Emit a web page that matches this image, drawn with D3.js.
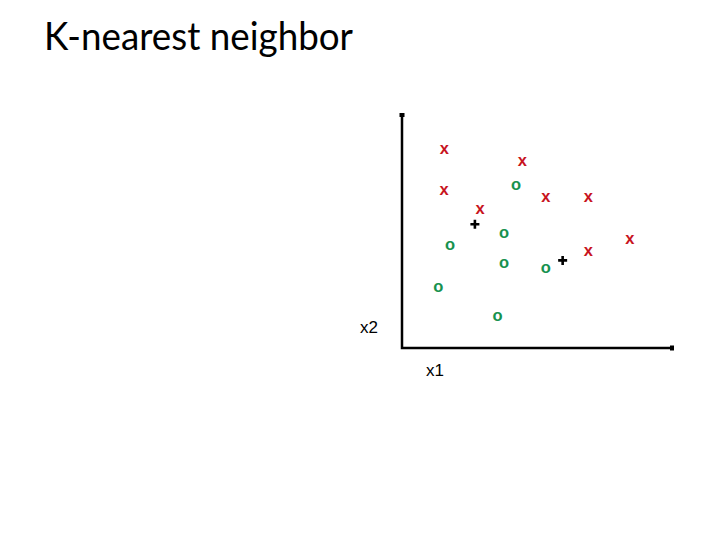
<!DOCTYPE html>
<html>
<head>
<meta charset="utf-8">
<script src="https://cdn.jsdelivr.net/npm/d3@7"></script>
<style>
  html, body { margin: 0; padding: 0; background: #fff; }
</style>
</head>
<body>
<div id="chart"></div>
<script>
const width = 720;
const height = 540;

// class "x" points (red)
const crossX = [1.57, 4.46, 1.56, 2.89, 5.33, 6.90, 8.44, 6.90];
const crossY = [8.57, 8.07, 6.81, 6.02, 6.52, 6.52, 4.73, 4.21];
// class "o" points (green)
const circX = [4.22, 3.78, 1.78, 3.78, 5.33, 1.34, 3.54];
const circY = [7.05, 4.98, 4.46, 3.69, 3.45, 2.67, 1.39];
// query points (+)
const queryX = [2.70, 5.95];
const queryY = [5.31, 3.76];

const svg = d3.select("#chart")
  .append("svg")
  .attr("width", width)
  .attr("height", height);

const x = d3.scaleLinear().domain([0, 10]).range([402, 672]);
const y = d3.scaleLinear().domain([0, 10]).range([348, 115]);

// title
svg.append("text")
  .attr("x", 44)
  .attr("y", 50)
  .attr("textLength", 309)
  .attr("lengthAdjust", "spacingAndGlyphs")
  .style("font-family", "Lato, 'Open Sans', sans-serif")
  .style("font-size", "38px")
  .text("K-nearest neighbor");

// axes
svg.append("path")
  .attr("d", `M${x(0)},${y(10)}V${y(0)}H${x(10)}`)
  .attr("fill", "none")
  .attr("stroke", "black")
  .attr("stroke-width", 2.5);

// little end caps
svg.append("rect").attr("x", x(0) - 2.5).attr("y", y(10) - 2).attr("width", 5).attr("height", 4);
svg.append("rect").attr("x", x(10) - 2).attr("y", y(0) - 2.5).attr("width", 4).attr("height", 5);

svg.append("text")
  .attr("x", 360)
  .attr("y", 333)
  .style("font-family", "'Liberation Sans', Arial, sans-serif")
  .style("font-size", "17px")
  .text("x2");

svg.append("text")
  .attr("x", 426)
  .attr("y", 376)
  .style("font-family", "'Liberation Sans', Arial, sans-serif")
  .style("font-size", "17px")
  .text("x1");

const markStyle = sel => sel
  .attr("text-anchor", "middle")
  .attr("dy", "0.35em")
  .style("font-family", "'Liberation Sans', Arial, sans-serif")
  .style("font-weight", "bold")
  .style("font-size", "16.5px");

svg.selectAll(".xm")
  .data(crossX.map((d, i) => [d, crossY[i]]))
  .enter()
  .append("text")
  .attr("class", "xm")
  .attr("x", d => x(d[0]))
  .attr("y", d => y(d[1]))
  .attr("fill", "#c8141e")
  .call(markStyle)
  .text("x");

svg.selectAll(".om")
  .data(circX.map((d, i) => [d, circY[i]]))
  .enter()
  .append("text")
  .attr("class", "om")
  .attr("x", d => x(d[0]))
  .attr("y", d => y(d[1]))
  .attr("fill", "#17924f")
  .call(markStyle)
  .text("o");

// query points
svg.selectAll(".q")
  .data(queryX.map((d, i) => [d, queryY[i]]))
  .enter()
  .append("path")
  .attr("class", "q")
  .attr("d", d => {
    const cx = x(d[0]), cy = y(d[1]), s = 4.5;
    return `M${cx - s},${cy}H${cx + s}M${cx},${cy - s}V${cy + s}`;
  })
  .attr("stroke", "black")
  .attr("stroke-width", 2.6);
</script>
</body>
</html>
